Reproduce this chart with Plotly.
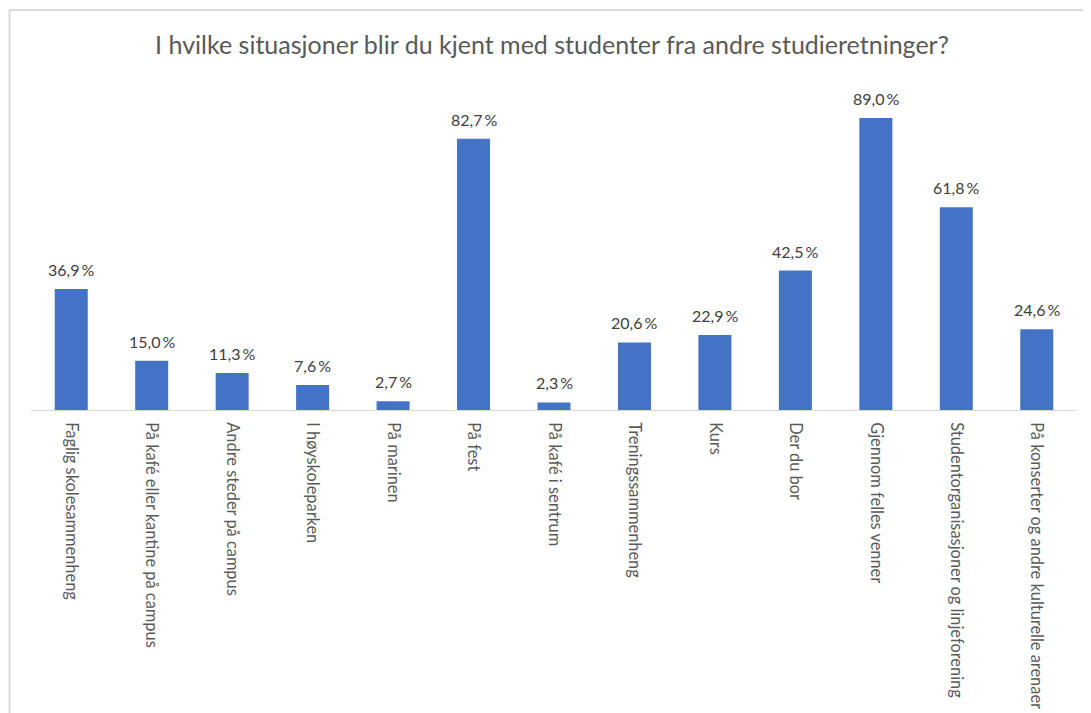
import plotly.graph_objects as go

categories = [
    "Faglig skolesammenheng",
    "På kafé eller kantine på campus",
    "Andre steder på campus",
    "I høyskoleparken",
    "På marinen",
    "På fest",
    "På kafé i sentrum",
    "Treningssammenheng",
    "Kurs",
    "Der du bor",
    "Gjennom felles venner",
    "Studentorganisasjoner og linjeforening",
    "På konserter og andre kulturelle arenaer",
]
values = [36.9, 15.0, 11.3, 7.6, 2.7, 82.7, 2.3, 20.6, 22.9, 42.5, 89.0, 61.8, 24.6]

title = "I hvilke situasjoner blir du kjent med studenter fra andre studieretninger?"

# norwegian style labels: comma decimal, space before %
labels = [f"{v:.1f}".replace(".", ",") + "\u2009%" for v in values]

W, H = 1091, 713
OFF = 8  # page body margin
# plot area wanted on the page: x 31..1077, y 82..410
left, right, top, base = 31, 1077, 82, 410
ml = left - OFF
mr = W + OFF - right
mt = top - OFF
mb = H + OFF - base

FONT = "Lato"

fig = go.Figure()
fig.add_trace(go.Bar(
    x=categories,
    y=values,
    marker=dict(color="#4472C4", line=dict(width=0)),
    width=0.41,
    hoverinfo="x+y",
))

# data labels a bit above the bars
for c, v, t in zip(categories, values, labels):
    fig.add_annotation(
        x=c, y=v, text=t, showarrow=False,
        yanchor="bottom", yshift=8,
        font=dict(family=FONT, size=16, color="#404040"),
    )

fig.update_layout(
    width=W, height=H,
    margin=dict(l=ml, r=mr, t=mt, b=mb),
    paper_bgcolor="white",
    plot_bgcolor="white",
    showlegend=False,
    title=dict(
        text=title,
        x=(552 - OFF) / W, xanchor="center",
        y=1 - (45 - OFF) / H, yanchor="middle",
        font=dict(family=FONT, size=25, color="#595959"),
    ),
)
fig.update_xaxes(
    tickangle=90,
    tickfont=dict(family=FONT, size=16.4, color="#595959"),
    showline=True, linecolor="#D9D9D9", linewidth=1,
    ticks="", ticklabelstandoff=8,
    showgrid=False,
)
fig.update_yaxes(
    range=[0, 100],
    visible=False,
    showgrid=False,
    zeroline=False,
)

# light frame at the top and left (page coords -> paper coords)
pw = right - left
ph = base - top
x_left = (9.5 - left) / pw
y_top = (base - 10) / ph
fig.add_shape(type="line", xref="paper", yref="paper",
              x0=x_left, x1=(W + OFF - left) / pw, y0=y_top, y1=y_top,
              line=dict(color="#D9D9D9", width=2))
fig.add_shape(type="line", xref="paper", yref="paper",
              x0=x_left, x1=x_left, y0=y_top, y1=(base - H - OFF) / ph,
              line=dict(color="#D9D9D9", width=2))

fig.write_html("out.html")
